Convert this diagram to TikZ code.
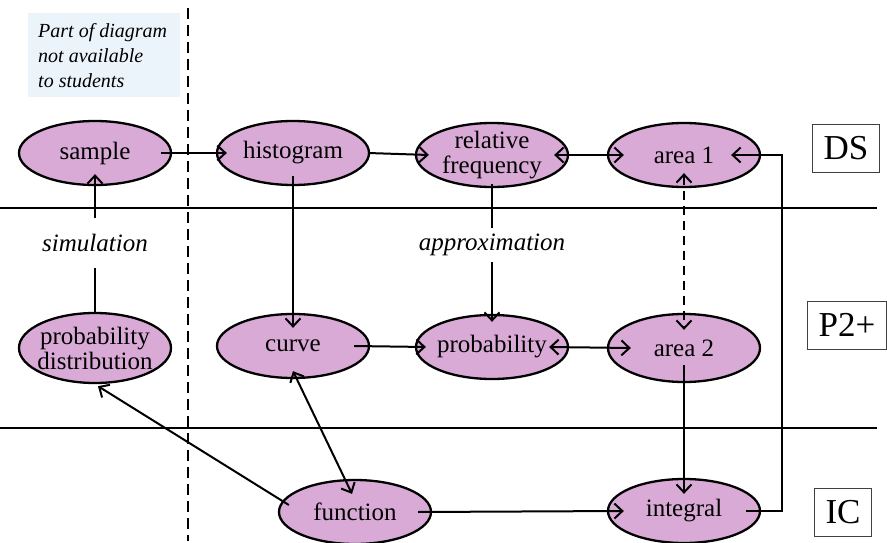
\documentclass[tikz,border=0pt]{standalone}
\usepackage{fontspec}
\setmainfont{Liberation Serif}
\usetikzlibrary{shapes.geometric,arrows.meta,calc}
\definecolor{nodefill}{RGB}{217,170,214}
\definecolor{noteblue}{RGB}{236,244,251}
\begin{document}
\begin{tikzpicture}[x=1pt,y=-1pt,
  concept/.style={ellipse,draw=black,line width=2.3pt,fill=nodefill,minimum width=152pt,minimum height=64pt,inner sep=-5pt,align=center,font=\fontsize{25}{25}\selectfont},
  level/.style={draw=black!75,line width=0.9pt,font=\fontsize{35}{35}\selectfont,minimum height=48pt,inner xsep=11pt,inner ysep=0pt},
  link/.style={line width=2pt},
  conn/.style={link,-{Straight Barb[length=8pt,width=15pt]}},
  both/.style={link,{Straight Barb[length=8pt,width=15pt]}-{Straight Barb[length=8pt,width=15pt]}},
  rel/.style={font=\itshape\fontsize{25}{25}\selectfont,inner sep=0pt}
]
\useasboundingbox (0,0) rectangle (887,543);
\fill[white] (0,0) rectangle (887,543);

% note box
\fill[noteblue] (28,13) rectangle (180,97);
\node[anchor=west,align=left,rel,font=\itshape\fontsize{20}{25}\selectfont] (note) at (38,56) {Part of diagram\\not available\\to students};

% level separators
\draw[line width=2.2pt] (0,208) -- (877,208);
\draw[line width=2.2pt] (0,428) -- (877,428);
\draw[line width=2.4pt,dash pattern=on 11pt off 6pt] (188,8) -- (188,541);

% nodes
\node[concept] (sample) at (95,153) {sample};
\node[concept] (hist) at (293,153) {histogram};
\node[concept] (rf) at (492,155) {relative\\frequency};
\node[concept] (a1) at (684,155) {area 1};
\node[concept,minimum height=70pt] (pd) at (95,348) {probability\\distribution};
\node[concept] (curve) at (293,346) {curve};
\node[concept] (prob) at (492,347) {probability};
\node[concept,minimum height=68pt] (a2) at (684,348) {area 2};
\node[concept] (func) at (355,512) {function};
\node[concept] (int) at (684,511) {integral};

\node[rel,minimum height=49pt] (sim) at (95,243) {simulation};
\node[rel,minimum height=34pt] (approx) at (492,245) {approximation};

\node[level] (ds) at (846,148) {DS};
\node[level] (p2) at (847,325) {P2+};
\node[level] (ic) at (843,512) {IC};

\coordinate (rc) at (782,0);

% connectors
\draw[conn] ($(sample.east)+(-11,0)$) -- ($(hist.west)+(11,0)$);
\draw[conn] ($(hist.east)+(-2,0)$) -- ($(rf.west)+(14,0)$);
\draw[both] ($(rf.east)+(-15,0)$) -- ($(a1.west)+(17,0)$);
\draw[conn] ($(curve.east)+(-16,0)$) -- ($(prob.west)+(11,0)$);
\draw[both] ($(prob.east)+(-20,0)$) -- ($(a2.west)+(24,0)$);
\draw[conn] ($(func.east)+(-14,0)$) -- ($(int.west)+(17,0)$);
\draw[conn] ($(hist.south)+(0,-10)$) -- ($(curve.north)+(0,15)$);
\draw[both,dash pattern=on 9pt off 6pt] ($(a1.south)+(0,-15)$) -- ($(a2.north)+(0,17)$);
\draw[conn] ($(a2.south)+(0,-18)$) -- ($(int.north)+(0,16)$);
\draw[both] ($(curve.south)+(0,-8)$) -- ($(func.north)+(-3,15)$);
\draw[conn] ($(func.west)+(11,-7)$) -- ($(pd.south)+(3,2)$);
\draw[conn] ($(int.east)+(-15,0)$) -| (rc |- a1) -- ($(a1.east)+(-30,0)$);

\draw[link] (pd.north) -- (sim.south);
\draw[conn] (sim.north) -- ($(sample.south)+(0,-12)$);
\draw[link] ($(rf.south)+(0,-4)$) -- (approx.north);
\draw[conn] (approx.south) -- ($(prob.north)+(0,8)$);
\end{tikzpicture}
\end{document}
